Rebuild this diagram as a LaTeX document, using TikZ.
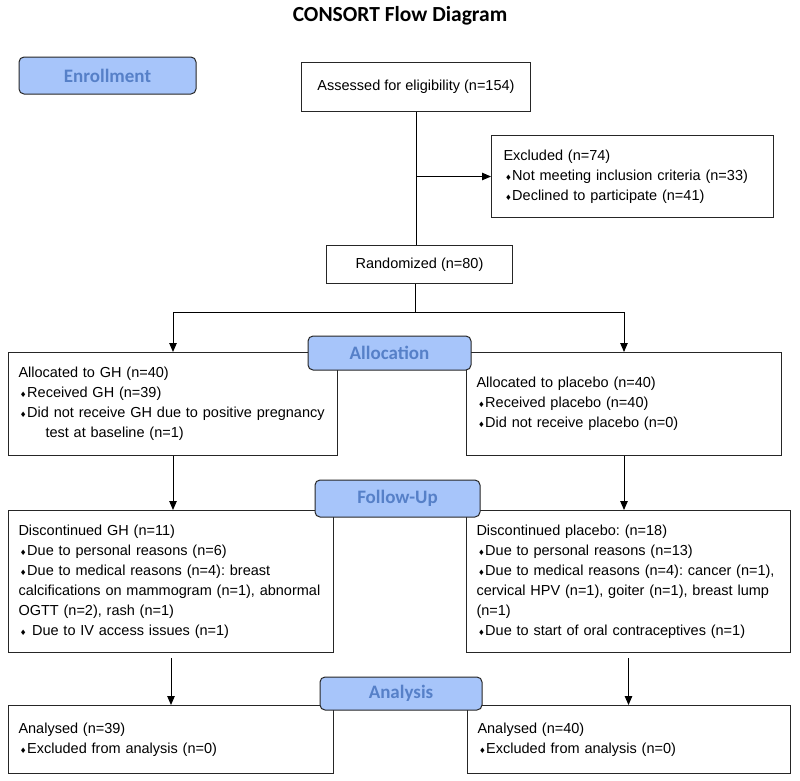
\documentclass[tikz,border=0pt]{standalone}
\usepackage{fontspec}
\setmainfont{Liberation Sans}
\newfontfamily\calib{Carlito}
\newfontfamily\symfont{DejaVu Sans}
\usetikzlibrary{arrows.meta,calc}
\definecolor{stagefill}{RGB}{167,197,250}
\definecolor{stagetext}{RGB}{86,128,200}
\newcommand{\bul}{\hspace{1.5pt}{\symfont\fontsize{7.5}{7.5}\selectfont ♦}\hspace{0.5pt}}
\frenchspacing

\begin{document}
\begin{tikzpicture}[x=1pt, y=-1pt, line width=1pt,
  >={Triangle[length=9pt,width=7.5pt]},
  box/.style={draw=black!85, rectangle, anchor=north west, align=left,
    inner xsep=10pt, inner ysep=0pt, font=\fontsize{14.5}{20}\selectfont},
  cbox/.style={draw=black!85, rectangle, anchor=north west, align=center,
    font=\fontsize{14.5}{20}\selectfont},
  stage/.style={draw=black!85, fill=stagefill, rounded corners=5pt,
    text=stagetext, font=\calib\bfseries\fontsize{19}{19}\selectfont,
    minimum width=163pt, minimum height=35pt}]
  \useasboundingbox (0,0) rectangle (800,780);

  % title
  \node[font=\calib\bfseries\fontsize{21.5}{22}\selectfont] (title) at (400,16) {CONSORT Flow Diagram};

  % enrollment
  \node[cbox, minimum width=229pt, minimum height=49pt] (assess) at (301,62) {Assessed for eligibility (n=154)};
  \node[box, inner xsep=12pt, text width=258pt, minimum height=82pt] (excl) at (491,135)
    {Excluded (n=74)\\
     \bul Not meeting inclusion criteria (n=33)\\
     \bul Declined to participate (n=41)};
  \node[cbox, minimum width=186pt, minimum height=38pt] (rand) at (326,245) {Randomized (n=80)};

  % allocation
  \node[box, text width=309pt, minimum height=103pt] (alG) at (8,352)
    {Allocated to GH (n=40)\\
     \bul Received GH (n=39)\\
     \bul Did not receive GH due to positive pregnancy\\
     \hspace*{27pt}test at baseline (n=1)};
  \node[box, text width=295pt, minimum height=103pt] (alP) at (466,352)
    {Allocated to placebo (n=40)\\
     \bul Received placebo (n=40)\\
     \bul Did not receive placebo (n=0)};

  % follow-up
  \node[box, text width=305pt, minimum height=142pt] (fuG) at (8,510)
    {Discontinued GH (n=11)\\
     \bul Due to personal reasons (n=6)\\
     \bul Due to medical reasons (n=4): breast\\
     calcifications on mammogram (n=1), abnormal\\
     OGTT (n=2), rash (n=1)\\
     \bul\ Due to IV access issues (n=1)};
  \node[box, text width=304pt, minimum height=142pt] (fuP) at (466,510)
    {Discontinued placebo: (n=18)\\
     \bul Due to personal reasons (n=13)\\
     \bul Due to medical reasons (n=4): cancer (n=1),\\
     cervical HPV (n=1), goiter (n=1), breast lump\\
     (n=1)\\
     \bul Due to start of oral contraceptives (n=1)};

  % analysis
  \node[box, text width=305pt, minimum height=68pt] (anG) at (8,705)
    {Analysed (n=39)\\
     \bul Excluded from analysis (n=0)};
  \node[box, text width=303pt, minimum height=68pt] (anP) at (467,705)
    {Analysed (n=40)\\
     \bul Excluded from analysis (n=0)};

  % connectors
  \coordinate (split) at (415.5,312);
  \draw (assess.south) -- (assess.south |- rand.north);
  \draw[->] (assess.south |- excl.west) -- (excl.west);
  \draw (split |- rand.south) -- (split);
  \draw[->] (split) -| (alG.north);
  \draw[->] (split) -| (alP.north);
  \draw[->] (alG.south) -- (alG.south |- fuG.north);
  \draw[->] (alP.south) -- (alP.south |- fuP.north);
  \draw[->] ([yshift=-5pt]fuG.south) -- (fuG.south |- anG.north);
  \draw[->] ([yshift=-5pt]fuP.south) -- (fuP.south |- anP.north);

  % stage labels
  \node[stage, minimum width=177pt, minimum height=37pt] (enrol) at (107.5,75.5) {Enrollment};
  \node[stage, minimum height=34pt] (alloc) at (389.5,353) {Allocation};
  \node[stage, minimum width=165pt, minimum height=37pt] (follow) at (397.5,498.5) {Follow-Up};
  \node[stage, minimum width=162pt, minimum height=33pt] (analys) at (401,693.5) {Analysis};
\end{tikzpicture}
\end{document}
